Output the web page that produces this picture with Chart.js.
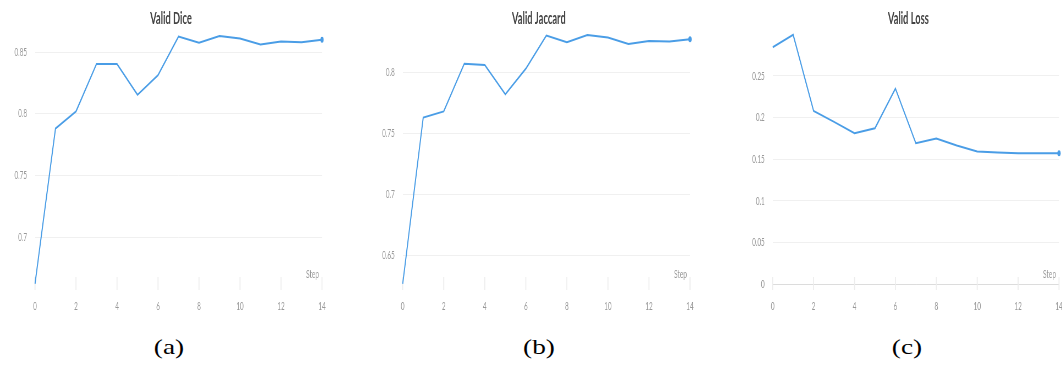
<!DOCTYPE html>
<html>
<head>
<meta charset="utf-8">
<script src="https://cdn.jsdelivr.net/npm/chart.js@4/dist/chart.umd.min.js"></script>
<style>
  html, body { margin: 0; padding: 0; background: #fff; }
  body { width: 1062px; height: 365px; position: relative; overflow: hidden; }
  .panel { position: absolute; top: 0; height: 320px; transform-origin: 0 0; }
  .panel canvas { display: block; }
  .cap { position: absolute; top: 335px; width: 60px; margin-left: -30px; text-align: center;
         font-family: "Liberation Serif", "Times New Roman", serif; font-weight: normal;
         font-size: 21px; line-height: 24px; color: #000; transform: scaleX(1.3); }
</style>
</head>
<body>
<div class="panel" id="pa"><canvas id="ca"></canvas></div>
<div class="panel" id="pb"><canvas id="cb"></canvas></div>
<div class="panel" id="pc"><canvas id="cc"></canvas></div>
<div class="cap" style="left:169px">(a)</div>
<div class="cap" style="left:539px">(b)</div>
<div class="cap" style="left:907px">(c)</div>
<script>
// Validation metrics per training step
const steps = [0, 1, 2, 3, 4, 5, 6, 7, 8, 9, 10, 11, 12, 13, 14];
const diceValues = [0.662, 0.788, 0.802, 0.8405, 0.8405, 0.8154, 0.8314, 0.8627, 0.8576, 0.8632, 0.8611, 0.8562, 0.8586, 0.8581, 0.860];
const jaccardValues = [0.627, 0.763, 0.768, 0.807, 0.806, 0.782, 0.803, 0.830, 0.8245, 0.8305, 0.8284, 0.8232, 0.8256, 0.8251, 0.827];
const lossValues = [0.2844, 0.2992, 0.208, 0.1948, 0.1812, 0.1872, 0.2348, 0.1692, 0.1748, 0.1664, 0.1592, 0.158, 0.1572, 0.1572, 0.1572];

// Axis ticks
const xTicks = [0, 2, 4, 6, 8, 10, 12, 14];
const diceTicks = [0.7, 0.75, 0.8, 0.85];
const jaccardTicks = [0.65, 0.7, 0.75, 0.8];
const lossTicks = [0, 0.05, 0.1, 0.15, 0.2, 0.25];

const titles = ['Valid Dice', 'Valid Jaccard', 'Valid Loss'];
const xAxisName = 'Step';

Chart.defaults.font.family = 'Lato, "Open Sans", sans-serif';

const SQUEEZE = 0.55;          // horizontal compression of each panel
const LINE = '#4a9de6';
const AREA_TOP = 30, AREA_BOTTOM = 290, H = 320;

// Short tick marks above the bottom edge, title, and axis name
const decor = {
  id: 'decor',
  beforeDatasetsDraw(chart) {
    const { ctx, chartArea: a, scales: { x } } = chart;
    ctx.save();
    ctx.strokeStyle = '#ededed';
    ctx.lineWidth = 1.8;
    x.ticks.forEach(t => {
      const px = x.getPixelForValue(t.value);
      ctx.beginPath();
      ctx.moveTo(px, a.bottom - 13);
      ctx.lineTo(px, a.bottom);
      ctx.stroke();
    });
    ctx.restore();
  },
  afterDraw(chart, args, opts) {
    const { ctx, chartArea: a } = chart;
    ctx.save();
    ctx.fillStyle = '#444';
    ctx.font = 'bold 17px Lato, sans-serif';
    ctx.textAlign = 'center';
    ctx.textBaseline = 'alphabetic';
    ctx.fillText(opts.title, (a.left + a.right) / 2 - 7.5 / SQUEEZE, 24);
    ctx.fillStyle = '#999';
    ctx.font = '12px Lato, sans-serif';
    ctx.textAlign = 'right';
    ctx.fillText(xAxisName, a.right - 3 / SQUEEZE, 278);
    ctx.restore();
  }
};

function makePanel(panelId, canvasId, screenLeft, screenWidth, areaLeft, areaRight, title, values, yTicks, yMin, yMax) {
  const W = Math.round(screenWidth / SQUEEZE);
  const yWidth = (areaLeft - screenLeft) / SQUEEZE;
  const rightPad = W - (areaRight - screenLeft) / SQUEEZE;
  const panel = document.getElementById(panelId);
  panel.style.left = screenLeft + 'px';
  panel.style.width = W + 'px';
  panel.style.transform = 'scaleX(' + SQUEEZE + ')';
  const canvas = document.getElementById(canvasId);
  canvas.width = W;
  canvas.height = H;
  const last = values.length - 1;
  return new Chart(canvas, {
    type: 'line',
    data: {
      datasets: [{
        data: values.map((v, i) => ({ x: steps[i], y: v })),
        borderColor: LINE,
        backgroundColor: LINE,
        borderWidth: 2,
        tension: 0,
        pointRadius: c => (c.dataIndex === last ? 3 : 0),
        pointBorderWidth: 0,
        clip: false
      }]
    },
    options: {
      responsive: false,
      animation: false,
      layout: { padding: { top: AREA_TOP, bottom: 0, left: 0, right: rightPad } },
      plugins: { legend: { display: false }, tooltip: { enabled: false }, decor: { title } },
      scales: {
        x: {
          type: 'linear', min: 0, max: 14,
          afterBuildTicks: s => { s.ticks = xTicks.map(v => ({ value: v })); },
          afterFit: s => { s.height = H - AREA_BOTTOM; s.paddingLeft = 0; s.paddingRight = 0; },
          grid: { display: false },
          border: { display: false },
          ticks: { color: '#999', font: { size: 11.5 }, padding: 1, maxRotation: 0, callback: v => String(v) }
        },
        y: {
          min: yMin, max: yMax,
          afterBuildTicks: s => { s.ticks = yTicks.map(v => ({ value: v })); },
          afterFit: s => { s.width = yWidth; },
          grid: { color: c => (c.tick && c.tick.value === 0 ? '#dcdcdc' : '#f0f0f0'), drawTicks: false, lineWidth: 1 },
          border: { display: false },
          ticks: { color: '#999', font: { size: 11.5 }, padding: 8 / SQUEEZE, callback: v => String(v) }
        }
      }
    },
    plugins: [decor]
  });
}

makePanel('pa', 'ca', 0, 360, 35, 322, titles[0], diceValues, diceTicks, 0.657, 0.868);
makePanel('pb', 'cb', 360, 360, 402.7, 690, titles[1], jaccardValues, jaccardTicks, 0.622, 0.8346);
makePanel('pc', 'cc', 720, 342, 772.7, 1059, titles[2], lossValues, lossTicks, -0.0068, 0.305);
</script>
</body>
</html>
